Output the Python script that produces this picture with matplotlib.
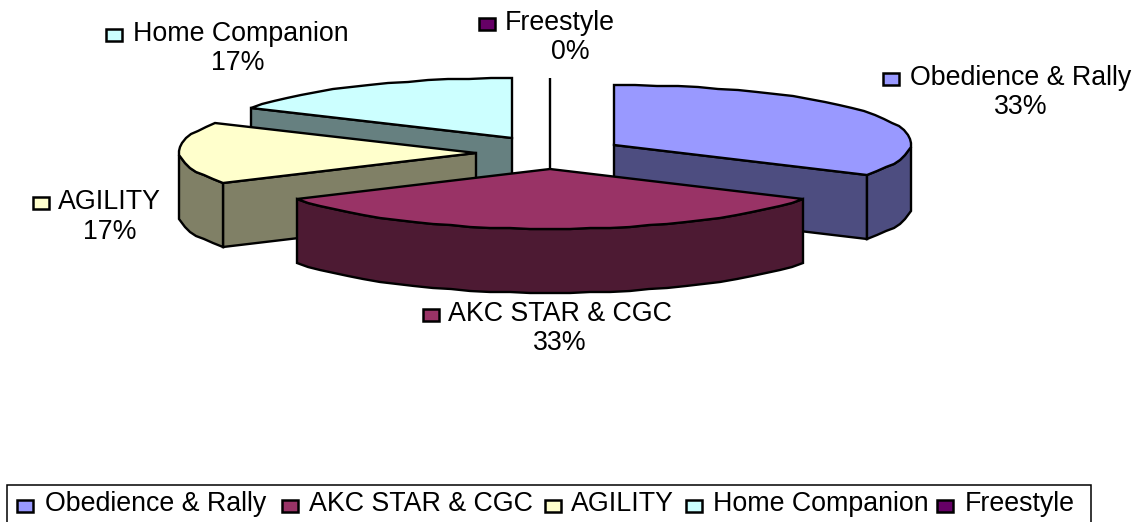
import numpy as np
import matplotlib
matplotlib.use("Agg")
import matplotlib.pyplot as plt
from matplotlib.patches import Polygon, Rectangle

plt.rcParams['font.family'] = ['Liberation Sans', 'DejaVu Sans']

categories = ["Obedience & Rally", "AKC STAR & CGC", "AGILITY", "Home Companion", "Freestyle"]
values = [2, 2, 1, 1, 0]
percent_labels = ["33%", "33%", "17%", "17%", "0%"]
top_colors = ["#9999FF", "#993366", "#FFFFCC", "#CCFFFF", "#660066"]
side_colors = ["#4D4D80", "#4D1A33", "#808066", "#668080", "#330033"]
# layout of the exploded slices: apex of each slice in pixels
apex_x = [614, 550, 476, 512, 550]
apex_y = [145, 169, 153, 138, 169]
RX, RY, DEPTH = 297, 60, 64
FS = 19.3
LW = 1.7

fig = plt.figure(figsize=(11.36, 5.22), dpi=100)
ax = fig.add_axes([0, 0, 1, 1])
ax.set_xlim(0, 1136)
ax.set_ylim(522, 0)
ax.axis("off")


def rim(cx, cy, a0, a1):
    """Outer rim of a slice, clockwise from 12 o'clock, as a coarse polyline."""
    n = max(int((a1 - a0) / 4), 1)
    t = np.radians(np.linspace(a0, a1, n + 1))
    x = cx + RX * np.sin(t) * (1 + 0.03 * np.cos(t))
    y = cy - RY * np.cos(t)
    return np.round(np.column_stack([x, y]))


def slice3d(cx, cy, a0, a1, top, side, z):
    r = rim(cx, cy, a0, a1)
    ap = np.array([[cx, cy]])
    kw = dict(edgecolor="black", lw=LW, joinstyle="miter", zorder=z)
    down = np.array([0, DEPTH])
    # cut faces that turn towards the viewer
    for a, normal in ((a0, a0 - 90), (a1, a1 + 90)):
        if np.cos(np.radians(normal)) < -1e-6:
            p = rim(cx, cy, a, a)[0:1]
            ax.add_patch(Polygon(np.vstack([ap, p, p + down, ap + down]), facecolor=side, **kw))
    # outer wall: only the part of the rim that faces the viewer
    ang = np.linspace(a0, a1, len(r))
    w = r[(ang >= 90) & (ang <= 270)]
    if len(w) > 1:
        ax.add_patch(Polygon(np.vstack([w, (w + down)[::-1]]), facecolor=side, **kw))
    ax.add_patch(Polygon(np.vstack([ap, r]), facecolor=top, **kw))


total = sum(values)
edges = np.concatenate([[0], np.cumsum(values)]) / total * 360
order = [3, 2, 0, 4, 1]
for z, i in enumerate(order):
    if values[i] > 0:
        slice3d(apex_x[i], apex_y[i], edges[i], edges[i + 1], top_colors[i], side_colors[i], 2 + z)
    else:
        ax.plot([apex_x[i], apex_x[i]], [apex_y[i], apex_y[i] - RY - 31], color="black", lw=LW,
                zorder=2 + z, solid_capstyle="butt")

# data labels
sw_x = [891, 431, 40.5, 114, 487]
text_x = [910, 448, 58, 133, 505]
text_y = [78, 314, 202, 34, 23]
pct_x = [1021, 560, 110, 238, 570]
pct_y = [107, 343, 232, 63, 52]
SW_W, SW_H = 16, 11.5


def swatch(x, yc, color):
    ax.add_patch(Rectangle((x - SW_W / 2, yc - SW_H / 2), SW_W, SW_H, facecolor=color,
                           edgecolor="black", lw=1.8, zorder=20))


for i, c in enumerate(categories):
    swatch(sw_x[i], text_y[i] + 1, top_colors[i])
    ax.text(text_x[i], text_y[i], c, fontsize=FS, ha="left", va="center", color="black", zorder=20)
    ax.text(pct_x[i], pct_y[i], percent_labels[i], fontsize=FS, ha="center", va="center", color="black", zorder=20)

# legend box: its lower edge falls on the image border
ax.add_patch(Rectangle((7, 485), 1084, 45, facecolor="white", edgecolor="black", lw=1.1, zorder=1))
leg_sw = [25, 290, 553, 694, 945]
leg_tx = [45, 309, 571, 713, 965]
LEG_Y = 504
for i, c in enumerate(categories):
    swatch(leg_sw[i], LEG_Y + 2, top_colors[i])
    ax.text(leg_tx[i], LEG_Y, c, fontsize=FS, ha="left", va="center", color="black", zorder=20)

fig.savefig("out.png", dpi=100, facecolor="white")
